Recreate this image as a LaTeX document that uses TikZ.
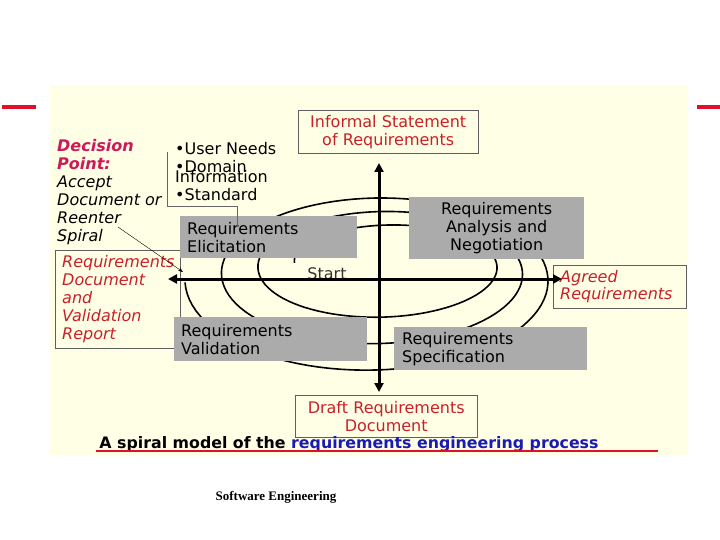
\documentclass[tikz,border=0pt]{standalone}
\usepackage{fontspec}
\setmainfont{DejaVu Sans}
\newfontfamily\footfont{Liberation Serif}
\usetikzlibrary{arrows.meta}
\definecolor{paper}{HTML}{FFFFE6}
\definecolor{phasegray}{HTML}{ABABAB}
\definecolor{docred}{HTML}{C8202A}
\definecolor{pinkred}{HTML}{CC1A5A}
\definecolor{capblue}{HTML}{1A1AB4}
\definecolor{barred}{HTML}{E0102A}
\definecolor{docline}{HTML}{606060}

\begin{document}
\begin{tikzpicture}[x=1pt,y=-1pt,
  phase/.style={rectangle,fill=phasegray,anchor=north west,inner xsep=7pt,inner ysep=0pt,font=\fontsize{16}{18}\selectfont},
  output/.style={rectangle,draw=docline,thin,text=docred,anchor=north west,inner xsep=7pt,inner ysep=0pt,font=\fontsize{16}{18}\selectfont},
  plain/.style={anchor=north west,inner sep=0pt,align=left,font=\fontsize{16}{18}\selectfont},
  axis/.style={line width=3pt,{Triangle[length=9pt,width=9pt]}-{Triangle[length=9pt,width=9pt]}},
  spiral/.style={line width=1.6pt},
  pointer/.style={-{Stealth[length=5pt]},thin},
  bracket/.style={draw=black!60,thin}
]
\useasboundingbox (0,0) rectangle (720,540);
\fill[paper] (50,85) rectangle (688,455);
\fill[barred] (2,105) rectangle (36,109);
\fill[barred] (697,105) rectangle (720,109);

% spiral first, the grey boxes hide parts of it
\draw[spiral,samples=300,domain=0.1:10.9]
  plot ({388-5.5*(\x-1)/3.6+(102.6+31*(\x-1)/3.6)*cos(190-100*\x)},
        {264.4+6.5*(\x-1)/3.6-(39.4+20*(\x-1)/3.6)*sin(190-100*\x)});

\coordinate (north) at (379,163);
\coordinate (south) at (379,392);
\coordinate (west) at (168,279);
\coordinate (east) at (562,279);
\coordinate (spiraltxt) at (118,227);
\coordinate (spiralend) at (183,272);

% documents
\node[output,text width=166pt,minimum height=43pt,align=center] (informal) at (298,110) {Informal Statement\\of Requirements};
\node[output,text width=168pt,minimum height=42pt,align=center] (draft) at (295,395) {Draft Requirements\\Document};
\node[output,text width=119pt,minimum height=43pt,align=left,font=\fontsize{16}{17}\selectfont\itshape] (agreed) at (553,265) {Agreed\\Requirements};
\node[output,text width=111pt,minimum height=98pt,align=left,font=\fontsize{16}{18}\selectfont\itshape] (docrep) at (55,250) {Requirements\\Document\\and\\Validation\\Report};

% phases
\node[phase,text width=163pt,minimum height=42pt,align=left] (elicit) at (180,216) {Requirements\\Elicitation};
\node[phase,text width=161pt,minimum height=62pt,align=center] (analysis) at (409,197) {Requirements\\Analysis and\\Negotiation};
\node[phase,text width=179pt,minimum height=44pt,align=left] (validate) at (174,317) {Requirements\\Validation};
\node[phase,text width=177pt,minimum height=43pt,align=left,inner xsep=8pt] (specify) at (394,327) {Requirements\\Specification};

% texts
\node[plain,font=\fontsize{16}{18}\selectfont\itshape] (decision) at (57,139)
  {\textcolor{pinkred}{\bfseries Decision}\\\textcolor{pinkred}{\bfseries Point:}\\Accept\\Document or\\Reenter\\Spiral};
\node[plain] (needs) at (175,142) {•User Needs\\•Domain\\[-8pt]Information\\•Standard};
\node[text=black!80,font=\fontsize{16}{18}\selectfont] (start) at (327,274) {Start};

\draw[axis] (north) -- (south);
\draw[axis] (west) -- (east);
\draw[bracket] ([xshift=-8pt,yshift=-10pt]needs.north west) |- ([xshift=-32pt,yshift=10pt]elicit.north) -- ([xshift=-32pt,yshift=-11pt]elicit.north);
\draw[pointer] (spiraltxt) -- (spiralend);

\node[font=\fontsize{15.8}{18}\selectfont\bfseries] (caption) at (349,444) {A spiral model of the \textcolor{capblue}{requirements engineering process}};
\draw[barred,line width=2pt] (96,451) -- (658,451);
\node[font=\footfont\bfseries\fontsize{13}{15}\selectfont] (footer) at (276,497) {Software Engineering};
\end{tikzpicture}
\end{document}
